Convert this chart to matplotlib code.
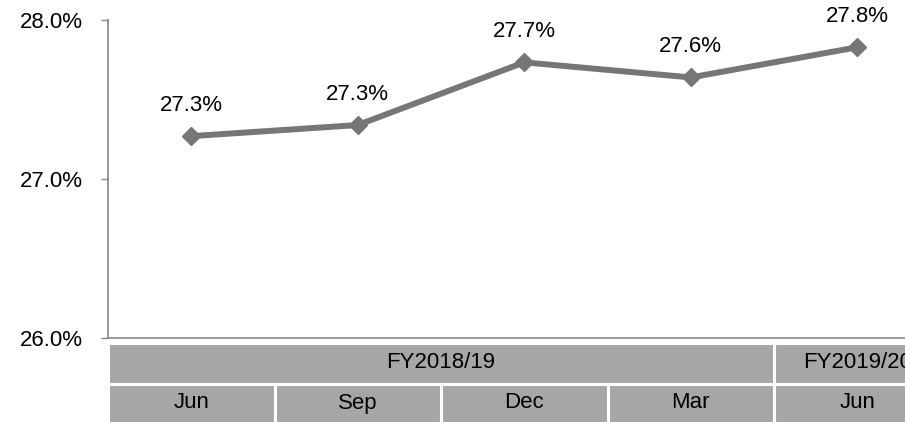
import matplotlib.pyplot as plt
import matplotlib.transforms as mtransforms
from matplotlib.patches import Rectangle
from matplotlib.ticker import FuncFormatter

plt.rcParams['font.family'] = ['Liberation Sans', 'DejaVu Sans']

# data
months = ["Jun", "Sep", "Dec", "Mar", "Jun"]
values = [27.27, 27.34, 27.735, 27.64, 27.83]
value_labels = ["27.3%", "27.3%", "27.7%", "27.6%", "27.8%"]
fy_labels = ["FY2018/19", "FY2019/20"]
fy_spans = [(0, 3), (4, 4)]
y_ticks = [26.0, 27.0, 28.0]

FS = 16

W, H = 905, 422
fig = plt.figure(figsize=(W / 100, H / 100), dpi=100)
# the chart is wider than the image, so the last column is clipped on the right
ax_left, ax_right = 108, 108 + 5 * 166.5
ax_top, ax_bot = 20.3, 337.7
ax = fig.add_axes([ax_left / W, 1 - ax_bot / H, (ax_right - ax_left) / W, (ax_bot - ax_top) / H])

line_col = "#767676"
x = list(range(len(values)))
ax.plot(x, values, color=line_col, lw=4.3, marker="D", ms=8.7, solid_capstyle="butt", zorder=3)
for xi, v, lab in zip(x, values, value_labels):
    ax.annotate(lab, (xi, v), xytext=(0, 22), textcoords="offset points",
                ha="center", va="center", fontsize=FS, color="black")

ax.set_xlim(-0.5, len(values) - 0.5)
ax.set_ylim(26.0, 28.0)
ax.set_yticks(y_ticks)
ax.yaxis.set_major_formatter(FuncFormatter(lambda v, p: f"{v:.1f}%"))
ax.set_xticks([])
ax.tick_params(axis="y", length=5, width=1, color="#868686", pad=13, labelsize=FS)
for s in ["top", "right"]:
    ax.spines[s].set_visible(False)
for s in ["left", "bottom"]:
    ax.spines[s].set_color("#868686")
    ax.spines[s].set_linewidth(1.2)

# category table under the axis
ah = ax_bot - ax_top
def ay(px):
    return (ax_bot - px) / ah

trans = mtransforms.blended_transform_factory(ax.transData, ax.transAxes)
cell_col = "#A6A6A6"
fy_top, fy_bot = ay(342.5), ay(383.5)
mo_top, mo_bot = ay(383.5), ay(440)
for (a, b), lab in zip(fy_spans, fy_labels):
    ax.add_patch(Rectangle((a - 0.5, fy_bot), b - a + 1, fy_top - fy_bot, transform=trans,
                           facecolor=cell_col, edgecolor="white", lw=2.2, clip_on=False))
    ax.text((a + b) / 2, (fy_top + fy_bot) / 2, lab, transform=trans, ha="center", va="center",
            fontsize=FS, clip_on=False)
for xi, m in zip(x, months):
    ax.add_patch(Rectangle((xi - 0.5, mo_bot), 1, mo_top - mo_bot, transform=trans,
                           facecolor=cell_col, edgecolor="white", lw=2.2, clip_on=False))
    ax.text(xi, ay(403), m, transform=trans, ha="center", va="center", fontsize=FS, clip_on=False)

fig.savefig("out.png", dpi=100)
